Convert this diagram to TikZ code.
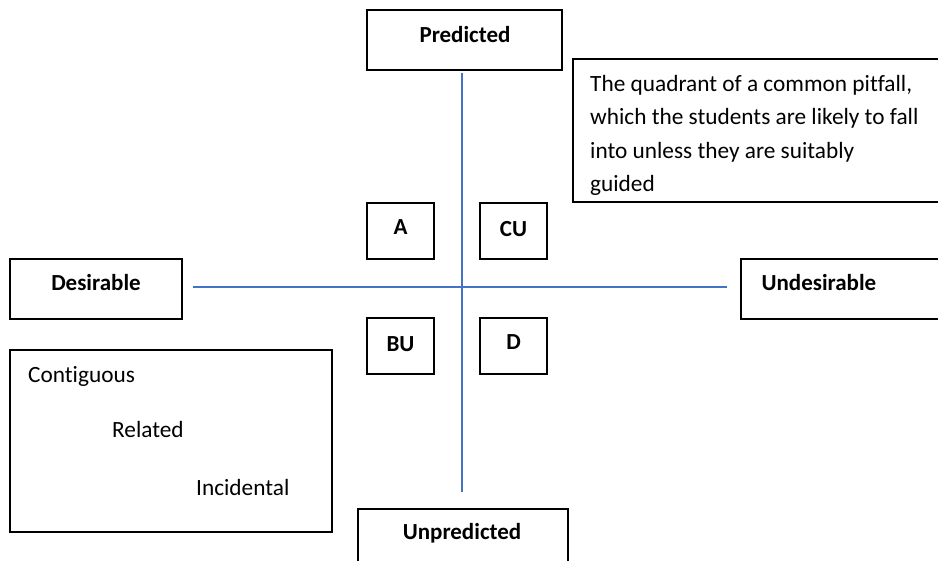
\documentclass[tikz,border=0pt]{standalone}
\usepackage{fontspec}
\setmainfont{Carlito}[Ligatures={NoCommon}]
\begin{document}
\begin{tikzpicture}[x=1pt,y=-1pt,
  box/.style={draw=black,line width=1.3pt,inner sep=0pt,outer sep=0pt},
  lbl/.style={font=\fontsize{23}{26}\selectfont\bfseries},
  txt/.style={font=\fontsize{23.3}{33.5}\selectfont},
  axis/.style={draw={rgb,255:red,68;green,114;blue,196},line width=1.6pt}]
\useasboundingbox (0,0) rectangle (938,561);
% boxes
\node[box,minimum width=195,minimum height=60] (pred) at (464.5,40) {};
\node[lbl] (predt) at (465,35) {Predicted};
\node[box,minimum width=172,minimum height=60] (des) at (96,289) {};
\node[lbl] (dest) at (96,283) {Desirable};
\node[box,minimum width=200,minimum height=60,anchor=north west] (und) at (741,259) {};
\node[lbl,anchor=west] (undt) at (758,283) {Undesirable};
\node[box,minimum width=210,minimum height=60,anchor=north west] (unp) at (358,509) {};
\node[lbl] (unpt) at (462,533) {Unpredicted};
% quadrant boxes
\node[box,minimum width=67,minimum height=56] (a) at (400.5,231) {};
\node[lbl] (at) at (400.5,227) {A};
\node[box,minimum width=67,minimum height=56] (cu) at (513.5,231) {};
\node[lbl] (cut) at (513.5,229) {CU};
\node[box,minimum width=67,minimum height=56] (bu) at (400.5,346) {};
\node[lbl] (but) at (400.5,344) {BU};
\node[box,minimum width=67,minimum height=56] (d) at (513.5,346) {};
\node[lbl] (dt) at (513.5,342) {D};
% pitfall box
\node[box,minimum width=368,minimum height=143,anchor=north west] (pit) at (573,59) {};
\node[txt,anchor=base west,align=left,inner sep=0pt] (pitt) at (590,192)
 {The quadrant of a common pitfall,\\which the students are likely to fall\\into unless they are suitably\\guided};
% legend box
\node[box,minimum width=322,minimum height=182,anchor=north west] (leg) at (10,350) {};
\node[txt,anchor=base west,inner sep=0pt] (c1) at (28,383) {Contiguous};
\node[txt,anchor=base west,inner sep=0pt] (c2) at (112,438) {Related};
\node[txt,anchor=base west,inner sep=0pt] (c3) at (196,495) {Incidental};
% axes
\coordinate (vtop) at (462,73);
\coordinate (vbot) at (462,492);
\coordinate (hl) at (193,287);
\coordinate (hr) at (727,287);
\draw[axis] (vtop) -- (vbot);
\draw[axis] (hl) -- (hr);
\end{tikzpicture}
\end{document}
